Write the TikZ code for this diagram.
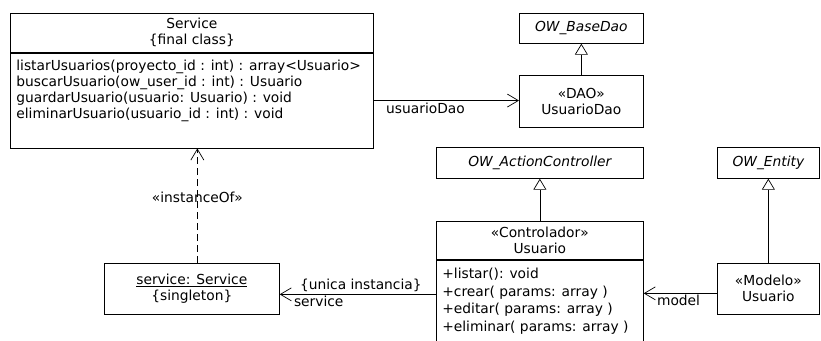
\documentclass[tikz,border=0pt]{standalone}
\usepackage{fontspec}
\setmainfont{DejaVu Sans}
\usetikzlibrary{arrows.meta}

\begin{document}
\begin{tikzpicture}[x=1pt, y=-1pt, line width=0.7pt,
	every node/.style={font=\fontsize{13.8}{16}\selectfont},
	box/.style={draw, anchor=north west, inner sep=0pt, align=center},
	opstext/.style={anchor=north west, align=left, inner xsep=6pt, inner ysep=7pt},
	assoc/.style={-{Straight Barb[length=11pt, width=13pt]}},
	inherit/.style={-{Triangle[open, length=11pt, width=13pt, fill=white]}},
	instance/.style={assoc, dash pattern=on 7pt off 4pt}]
	\clip (0,0) rectangle (821,340);
	% service class and its operations
	\node[box, minimum width=363pt, minimum height=39pt] (service) at (10,13) {Service\\\{final class\}};
	\node[box, minimum width=363pt, minimum height=95pt, anchor=north] (serviceops) at (service.south) {};
	\node[opstext] (serviceopstext) at (serviceops.north west) {listarUsuarios(proyecto\_id : int) : array<Usuario>\\ buscarUsuario(ow\_user\_id : int) : Usuario\\ guardarUsuario(usuario: Usuario) : void\\ eliminarUsuario(usuario\_id : int) : void};
	% dao side
	\node[box, minimum width=124pt, minimum height=30pt, font=\fontsize{13.8}{16}\selectfont\itshape] (basedao) at (519,13) {OW\_BaseDao};
	\node[box, minimum width=124pt, minimum height=52pt] (dao) at (519,75) {«DAO»\\UsuarioDao};
	\draw[inherit] (dao) -- (basedao);
	\draw[assoc] (serviceops.east) -- (serviceops.east -| dao.west) node[pos=0.07, below right, inner sep=2pt] (daolabel) {usuarioDao};
	% controller and model
	\node[box, minimum width=207pt, minimum height=31pt, font=\fontsize{13.8}{16}\selectfont\itshape] (actionctl) at (436,147) {OW\_ActionController};
	\node[box, minimum width=207pt, minimum height=38pt] (ctl) at (436,221) {«Controlador»\\Usuario};
	\node[box, minimum width=207pt, minimum height=95pt, anchor=north] (ctlops) at (ctl.south) {};
	\node[opstext, inner ysep=8pt, font=\fontsize{13.8}{17.7}\selectfont] (ctlopstext) at (ctlops.north west) {+listar(): void\\ +crear( params: array )\\ +editar( params: array )\\ +eliminar( params: array )};
	\draw[inherit] (ctl) -- (actionctl);
	\node[box, minimum width=102pt, minimum height=31pt, font=\fontsize{13.8}{16}\selectfont\itshape] (entity) at (717,147) {OW\_Entity};
	\node[box, minimum width=102pt, minimum height=51pt] (modelo) at (717,263) {«Modelo»\\Usuario};
	\draw[inherit] (modelo) -- (entity);
	\draw[assoc] ([yshift=-4.5pt]modelo.west) -- ([yshift=-4.5pt]modelo.west -| ctlops.east) node[anchor=north west, inner sep=1pt, xshift=12pt] (modellabel) {model};
	% singleton instance
	\node[box, minimum width=175pt, minimum height=51pt] (svcobj) at (104,263) {\underline{service: Service}\\\{singleton\}};
	\draw[assoc] ([yshift=-5.5pt]svcobj.east -| ctlops.west) -- ([yshift=-5.5pt]svcobj.east) node[anchor=south west, inner sep=1pt, xshift=19pt, yshift=1pt] (uniquelabel) {\{unica instancia\}} node[anchor=north west, inner sep=1pt, xshift=13pt] (svclabel) {service};
	\draw[instance] ([xshift=5.5pt]svcobj.north) -- ([xshift=5.5pt]svcobj.north |- serviceops.south) node[pos=0.57] (instlabel) {«instanceOf»};
\end{tikzpicture}
\end{document}
